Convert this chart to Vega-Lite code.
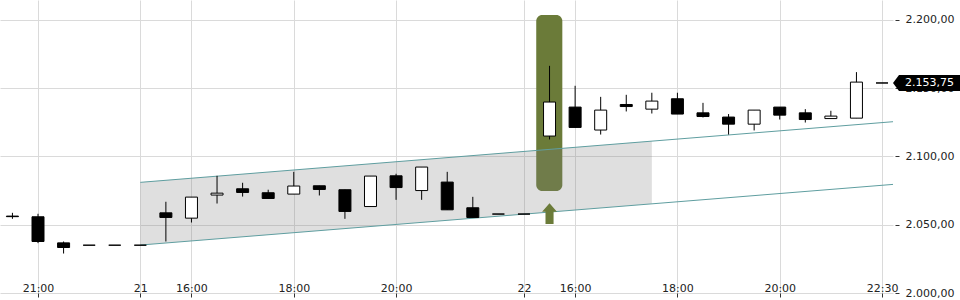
{
  "$schema": "https://vega.github.io/schema/vega-lite/v6.json",
  "width": 893,
  "height": 293,
  "autosize": {"type": "none"},
  "padding": {"left": 0, "top": 0, "right": 67, "bottom": 7},
  "background": "white",
  "config": {
    "view": {"stroke": null},
    "font": "DejaVu Sans",
    "locale": {"number": {"decimal": ",", "thousands": ".", "grouping": [3], "currency": ["", " €"]}}
  },
  "datasets": {
    "candles": [
      {"i": 0, "o": 2056.3, "h": 2058.7, "l": 2054.3, "c": 2055.9},
      {"i": 1, "o": 2055.8, "h": 2058.0, "l": 2036.5, "c": 2037.7},
      {"i": 2, "o": 2036.7, "h": 2037.7, "l": 2028.9, "c": 2033.3},
      {"i": 3, "o": 2035.0, "h": 2035.0, "l": 2035.0, "c": 2035.0},
      {"i": 4, "o": 2035.0, "h": 2035.0, "l": 2035.0, "c": 2035.0},
      {"i": 5, "o": 2035.0, "h": 2035.0, "l": 2035.0, "c": 2035.0},
      {"i": 6, "o": 2058.7, "h": 2066.8, "l": 2037.7, "c": 2055.3},
      {"i": 7, "o": 2054.8, "h": 2070.2, "l": 2051.6, "c": 2070.2},
      {"i": 8, "o": 2071.7, "h": 2085.8, "l": 2065.5, "c": 2073.1},
      {"i": 9, "o": 2076.3, "h": 2080.7, "l": 2070.6, "c": 2073.6},
      {"i": 10, "o": 2073.4, "h": 2075.6, "l": 2069.2, "c": 2069.2},
      {"i": 11, "o": 2072.4, "h": 2088.7, "l": 2072.4, "c": 2078.3},
      {"i": 12, "o": 2078.5, "h": 2078.5, "l": 2071.4, "c": 2075.8},
      {"i": 13, "o": 2075.6, "h": 2075.6, "l": 2054.3, "c": 2059.7},
      {"i": 14, "o": 2063.3, "h": 2085.6, "l": 2063.3, "c": 2085.6},
      {"i": 15, "o": 2085.8, "h": 2087.3, "l": 2068.2, "c": 2077.2},
      {"i": 16, "o": 2075.0, "h": 2092.2, "l": 2068.2, "c": 2092.2},
      {"i": 17, "o": 2081.2, "h": 2088.7, "l": 2060.9, "c": 2060.9},
      {"i": 18, "o": 2062.4, "h": 2070.4, "l": 2055.3, "c": 2055.3},
      {"i": 19, "o": 2057.8, "h": 2057.8, "l": 2057.8, "c": 2057.8},
      {"i": 20, "o": 2057.8, "h": 2057.8, "l": 2057.8, "c": 2057.8},
      {"i": 21, "o": 2114.9, "h": 2166.3, "l": 2112.4, "c": 2139.8},
      {"i": 22, "o": 2136.1, "h": 2151.7, "l": 2121.2, "c": 2121.2},
      {"i": 23, "o": 2119.3, "h": 2143.6, "l": 2116.0, "c": 2133.9},
      {"i": 24, "o": 2138.0, "h": 2145.1, "l": 2132.9, "c": 2136.5},
      {"i": 25, "o": 2134.6, "h": 2146.6, "l": 2131.4, "c": 2140.5},
      {"i": 26, "o": 2142.2, "h": 2146.6, "l": 2131.0, "c": 2131.0},
      {"i": 27, "o": 2131.9, "h": 2139.2, "l": 2128.5, "c": 2129.2},
      {"i": 28, "o": 2128.8, "h": 2131.0, "l": 2116.0, "c": 2123.6},
      {"i": 29, "o": 2123.6, "h": 2133.9, "l": 2119.0, "c": 2133.9},
      {"i": 30, "o": 2136.1, "h": 2136.1, "l": 2127.0, "c": 2130.2},
      {"i": 31, "o": 2131.9, "h": 2134.6, "l": 2124.8, "c": 2127.0},
      {"i": 32, "o": 2127.7, "h": 2133.4, "l": 2127.7, "c": 2129.5},
      {"i": 33, "o": 2128.0, "h": 2161.7, "l": 2128.0, "c": 2154.4},
      {"i": 34, "o": 2153.75, "h": 2153.75, "l": 2153.75, "c": 2153.75}
    ],
    "channel": [
      {"i": 5, "v": 2081.0, "line": "upper"},
      {"i": 34.43, "v": 2125.4, "line": "upper"},
      {"i": 5, "v": 2035.1, "line": "lower"},
      {"i": 34.43, "v": 2079.5, "line": "lower"}
    ],
    "band": [
      {"i": 5, "lo": 2035.1, "hi": 2081.0},
      {"i": 25, "lo": 2065.3, "hi": 2111.2}
    ],
    "highlight": [{"from": 20.48, "to": 21.5, "top": 2203.5, "bottom": 2074.7}],
    "signal": [{"i": 21, "v": 2058.1}],
    "last": [{"v": 2153.75}]
  },
  "layer": [
    {
      "data": {"name": "highlight"},
      "mark": {"type": "rect", "cornerRadius": 6, "color": "#6b7b39", "opacity": 1},
      "encoding": {
        "x": {
          "field": "from", "type": "quantitative", "title": null,
          "scale": {"domain": [-0.486, 34.429], "nice": false, "zero": false, "padding": 0},
          "axis": {
            "values": [1, 5, 7, 11, 15, 20, 22, 26, 30, 34],
            "labelExpr": "datum.value == 1 ? '21:00' : datum.value == 5 ? '21' : datum.value == 7 ? '16:00' : datum.value == 11 ? '18:00' : datum.value == 15 ? '20:00' : datum.value == 20 ? '22' : datum.value == 22 ? '16:00' : datum.value == 26 ? '18:00' : datum.value == 30 ? '20:00' : '22:30'",
            "grid": true, "gridColor": "#dadada", "gridWidth": 1,
            "domain": false, "ticks": true, "tickSize": 4, "tickColor": "#333333",
            "labelPadding": -6, "labelBaseline": "alphabetic",
            "labelFont": "DejaVu Sans", "labelFontSize": 11, "labelColor": "#222222",
            "labelFlush": false, "labelOverlap": false
          }
        },
        "x2": {"field": "to"},
        "y": {
          "field": "top", "type": "quantitative", "title": null,
          "scale": {"domain": [2000, 2214.5], "nice": false, "zero": false, "padding": 0},
          "axis": {
            "orient": "right",
            "values": [2000, 2050, 2100, 2150, 2200],
            "format": ",.2f",
            "grid": true, "gridColor": "#dadada", "gridWidth": 1,
            "domain": false, "tickSize": 4, "tickColor": "#333333", "offset": 2,
            "labelPadding": 6, "labelBaseline": "middle",
            "labelFont": "DejaVu Sans", "labelFontSize": 11, "labelColor": "#222222",
            "labelFlush": false, "labelOverlap": false
          }
        },
        "y2": {"field": "bottom"}
      }
    },
    {
      "data": {"name": "band"},
      "mark": {"type": "area", "color": "#808080", "opacity": 0.25},
      "encoding": {
        "x": {"field": "i", "type": "quantitative", "title": null},
        "y": {"field": "hi", "type": "quantitative", "title": null},
        "y2": {"field": "lo"}
      }
    },
    {
      "data": {"name": "channel"},
      "mark": {"type": "line", "color": "#5f9ea0", "strokeWidth": 1},
      "encoding": {
        "x": {"field": "i", "type": "quantitative", "title": null},
        "y": {"field": "v", "type": "quantitative", "title": null},
        "detail": {"field": "line"}
      }
    },
    {
      "data": {"name": "candles"},
      "mark": {"type": "rule", "color": "black", "strokeWidth": 1},
      "encoding": {
        "x": {"field": "i", "type": "quantitative", "title": null},
        "y": {"field": "l", "type": "quantitative", "title": null},
        "y2": {"field": "h"}
      }
    },
    {
      "data": {"name": "candles"},
      "mark": {"type": "bar", "size": 12, "stroke": "black", "strokeWidth": 1},
      "encoding": {
        "x": {"field": "i", "type": "quantitative", "title": null},
        "y": {"field": "o", "type": "quantitative", "title": null},
        "y2": {"field": "c"},
        "fill": {"condition": {"test": "datum.c > datum.o", "value": "white"}, "value": "black"}
      }
    },
    {
      "data": {"name": "signal"},
      "mark": {"type": "point", "shape": "M0,-1L0.72,-0.19L0.39,-0.19L0.39,1L-0.39,1L-0.39,-0.19L-0.72,-0.19Z", "size": 428, "filled": true, "color": "#6b7b39", "opacity": 1, "strokeWidth": 0},
      "encoding": {
        "x": {"field": "i", "type": "quantitative", "title": null},
        "y": {"field": "v", "type": "quantitative", "title": null}
      }
    },
    {
      "data": {"name": "last"},
      "mark": {"type": "point", "shape": "M0,0L0.18,-0.24L2,-0.24L2,0.24L0.18,0.24Z", "size": 4489, "filled": true, "color": "black", "opacity": 1, "strokeWidth": 0, "clip": false},
      "encoding": {
        "x": {"value": "width"},
        "y": {"field": "v", "type": "quantitative", "title": null}
      }
    },
    {
      "data": {"name": "last"},
      "mark": {"type": "text", "align": "left", "baseline": "middle", "dx": 12, "color": "white", "font": "DejaVu Sans", "fontSize": 11, "clip": false},
      "encoding": {
        "x": {"value": "width"},
        "y": {"field": "v", "type": "quantitative", "title": null},
        "text": {"field": "v", "type": "quantitative", "format": ",.2f"}
      }
    }
  ]
}
